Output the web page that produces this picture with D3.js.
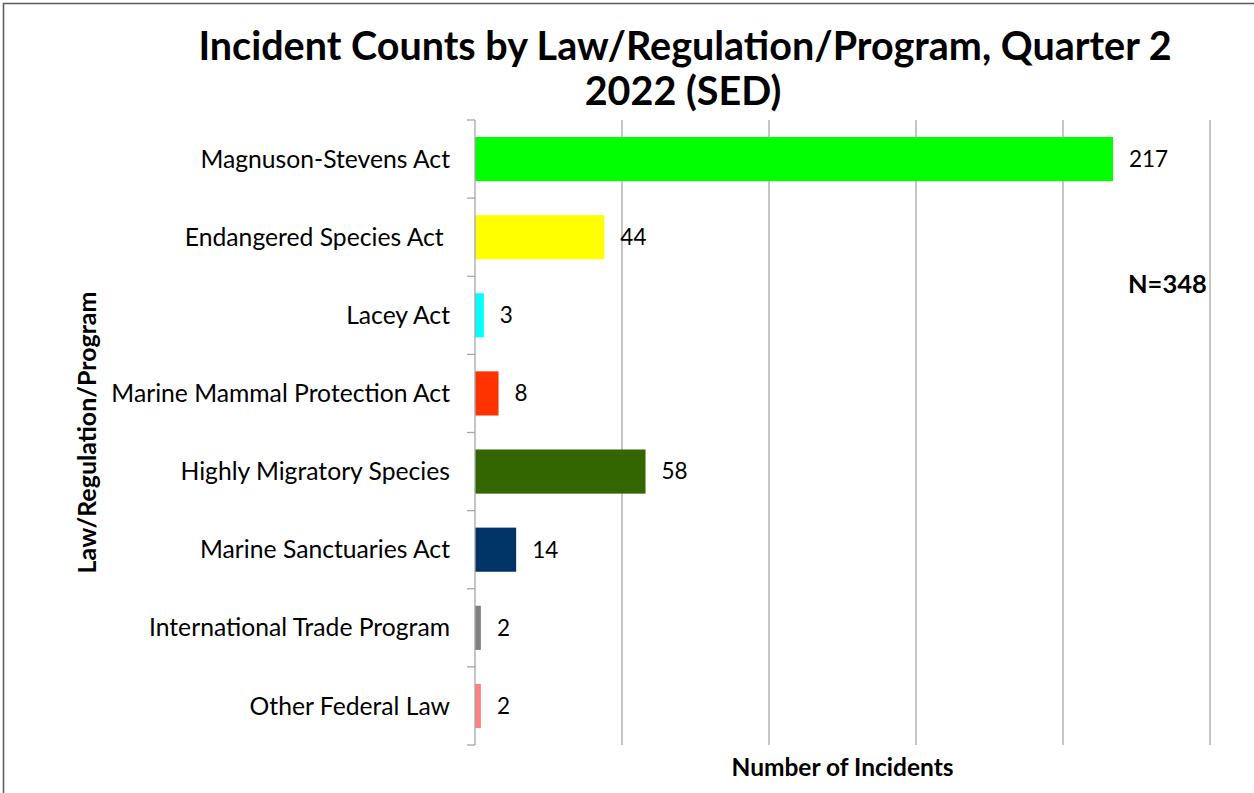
<!DOCTYPE html>
<html>
<head>
<meta charset="utf-8">
<script src="https://cdn.jsdelivr.net/npm/d3@7"></script>
<style>
  body { margin: 0; background: #fff; }
  svg { font-family: Lato, "Open Sans", sans-serif; }
  svg text { white-space: pre; }
</style>
</head>
<body>
<div id="chart"></div>
<script>
// data
var categories = ["Magnuson-Stevens Act", "Endangered Species Act ", "Lacey Act",
  "Marine Mammal Protection Act", "Highly Migratory Species", "Marine Sanctuaries Act",
  "International Trade Program", "Other Federal Law"];
var counts = [217, 44, 3, 8, 58, 14, 2, 2];
var barColors = ["#00ff00", "#ffff00", "#00ffff", "#ff3300", "#336600", "#003366", "#808080", "#ff8080"];
var gridTicks = [0, 50, 100, 150, 200, 250];
var totalLabel = "N=348";

var W = 1254, H = 793;
var margin = {top: 120, right: 44, bottom: 48, left: 475},
    width = W - margin.left - margin.right,
    height = H - margin.top - margin.bottom;

var data = categories.map(function(c, i) { return {name: c, value: counts[i], color: barColors[i]}; });

var svg = d3.select("#chart").append("svg")
    .attr("width", W)
    .attr("height", H);

// outer chart border
svg.append("rect")
  .attr("x", 3.5).attr("y", 3.5)
  .attr("width", W + 10).attr("height", H + 10)
  .attr("fill", "none")
  .attr("stroke", "#595959")
  .attr("stroke-width", 1.5);

// title
var title = svg.append("text")
  .attr("text-anchor", "middle")
  .attr("font-weight", "bold")
  .attr("font-size", 39.5)
  .attr("fill", "#000");
title.append("tspan").attr("x", 685).attr("y", 60).text("Incident Counts by Law/Regulation/Program, Quarter 2");
title.append("tspan").attr("x", 683).attr("y", 105).text("2022 (SED)");

var g = svg.append("g")
  .attr("transform", "translate(" + margin.left + "," + margin.top + ")");

var x = d3.scaleLinear().domain([0, 250]).range([0, width]);
var y = d3.scaleBand().domain(categories).range([0, height]).padding(0);

// vertical gridlines
g.append("g")
  .selectAll("line")
  .data(gridTicks.slice(1))
  .enter().append("line")
    .attr("x1", function(d) { return x(d); })
    .attr("x2", function(d) { return x(d); })
    .attr("y1", 0).attr("y2", height)
    .attr("stroke", "#a6a6a6")
    .attr("stroke-width", 1.3);

// bars
var barH = y.bandwidth() * 0.565;
g.selectAll("rect.bar")
  .data(data)
  .enter().append("rect")
    .attr("class", "bar")
    .attr("x", x(0))
    .attr("y", function(d) { return y(d.name) + (y.bandwidth() - barH) / 2; })
    .attr("width", function(d) { return x(d.value) - x(0); })
    .attr("height", barH)
    .attr("fill", function(d) { return d.color; });

// value labels
g.selectAll("text.val")
  .data(data)
  .enter().append("text")
    .attr("class", "val")
    .attr("x", function(d) { return x(d.value) + 16; })
    .attr("y", function(d) { return y(d.name) + y.bandwidth() / 2; })
    .attr("dy", "0.35em")
    .attr("font-size", 22.5)
    .attr("fill", "#000")
    .text(function(d) { return d.value; });

// category axis with ticks on band boundaries
var yAxis = g.append("g");
yAxis.append("line")
  .attr("x1", 0).attr("x2", 0).attr("y1", 0).attr("y2", height)
  .attr("stroke", "#a6a6a6").attr("stroke-width", 1.3);
var bounds = categories.map(function(c) { return y(c); }).concat([height]);
yAxis.selectAll("line.tick")
  .data(bounds)
  .enter().append("line")
    .attr("class", "tick")
    .attr("x1", -8).attr("x2", 0)
    .attr("y1", function(d) { return d; })
    .attr("y2", function(d) { return d; })
    .attr("stroke", "#a6a6a6").attr("stroke-width", 1.3);
yAxis.selectAll("text")
  .data(categories)
  .enter().append("text")
    .attr("x", -25)
    .attr("y", function(d) { return y(d) + y.bandwidth() / 2; })
    .attr("dy", "0.35em")
    .attr("text-anchor", "end")
    .attr("font-size", 24.7)
    .attr("fill", "#000")
    .text(function(d) { return d; });

// total
g.append("text")
  .attr("x", x(217) + 15)
  .attr("y", 173)
  .attr("font-size", 25.5)
  .attr("font-weight", "bold")
  .text(totalLabel);

// axis titles
svg.append("text")
  .attr("x", margin.left + width / 2)
  .attr("y", 776)
  .attr("text-anchor", "middle")
  .attr("font-size", 24.5)
  .attr("font-weight", "bold")
  .text("Number of Incidents");

svg.append("text")
  .attr("transform", "translate(96," + (margin.top + height / 2) + ")rotate(-90)")
  .attr("text-anchor", "middle")
  .attr("font-size", 25)
  .attr("font-weight", "bold")
  .text("Law/Regulation/Program");
</script>
</body>
</html>
